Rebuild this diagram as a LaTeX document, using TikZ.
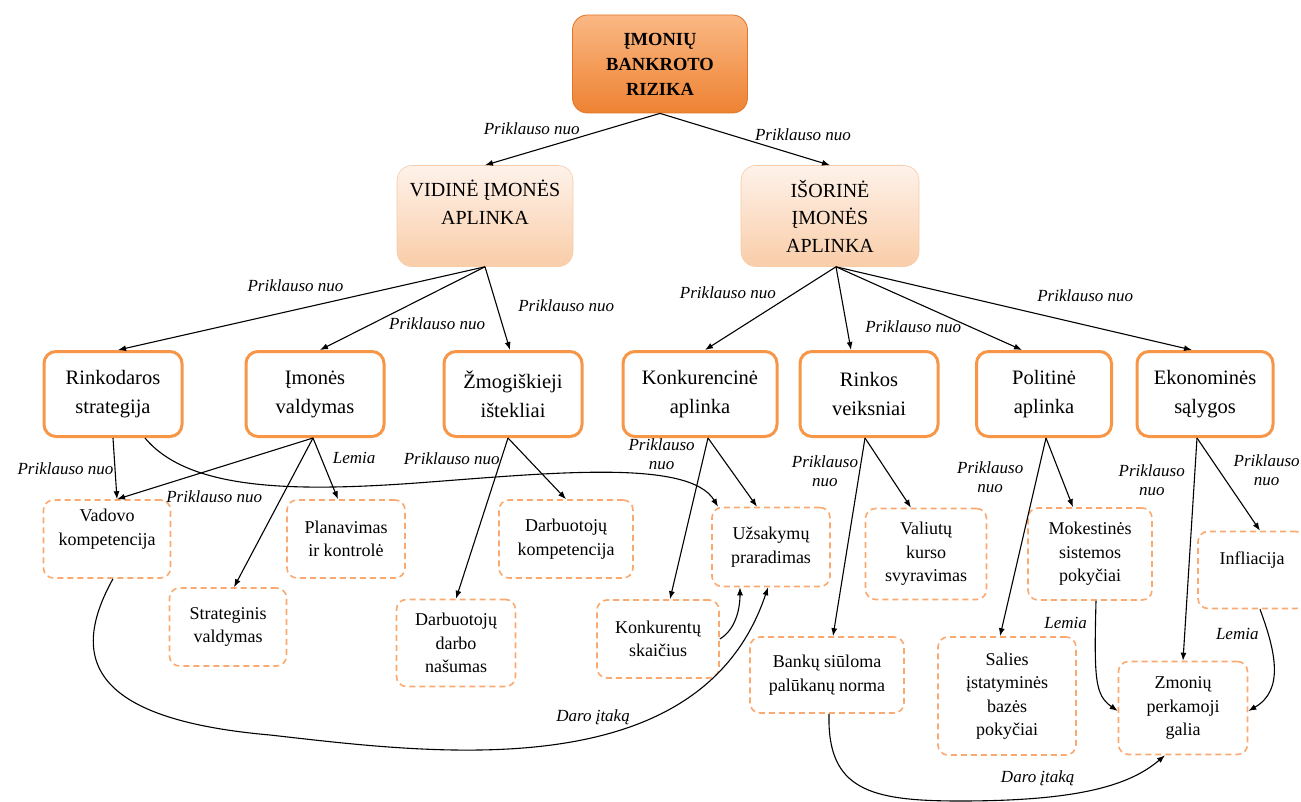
\documentclass[tikz,border=0pt]{standalone}
\usepackage{fontspec}
\setmainfont{Liberation Serif}
\usetikzlibrary{positioning,arrows,arrows.meta}
\definecolor{rootdark}{HTML}{EE8232}
\definecolor{rootlight}{HTML}{FAB884}
\definecolor{rootline}{HTML}{E07428}
\definecolor{peachtop}{HTML}{FEF2EA}
\definecolor{peachbot}{HTML}{F9CDA8}
\definecolor{peachline}{HTML}{F6CBAA}
\definecolor{boxline}{HTML}{F79646}
\definecolor{dashline}{HTML}{FAA970}

\begin{document}
\begin{tikzpicture}[x=1pt,y=-1pt,
root/.style={rectangle, rounded corners=15pt, draw=rootline, line width=0.8pt, top color=rootlight, bottom color=rootdark, minimum width=175pt, minimum height=98pt, align=center, font=\fontsize{18.5}{25}\selectfont\bfseries},
env/.style={rectangle, rounded corners=15pt, draw=peachline, line width=0.6pt, top color=peachtop, bottom color=peachbot, minimum width=176pt, minimum height=101pt, align=center, font=\fontsize{20}{27.5}\selectfont},
factor/.style={rectangle, rounded corners=12pt, draw=boxline, line width=3pt, fill=white, minimum width=138pt, minimum height=85pt, align=center, font=\fontsize{20.5}{29}\selectfont},
item/.style={rectangle, rounded corners=10pt, draw=dashline, line width=1.6pt, dash pattern=on 6pt off 4pt, minimum height=78pt, align=center, font=\fontsize{18}{23.5}\selectfont},
lbl/.style={font=\fontsize{17}{19}\selectfont\itshape, inner sep=1pt, align=center},
link/.style={-{Latex[length=8pt,width=6pt]}, line width=1.1pt}
]
\useasboundingbox (0,0) rectangle (1301,802);

% top levels
\node[root] (root) at (660,64) {ĮMONIŲ\\BANKROTO\\RIZIKA};
\node[env] (vid) at (485,216) {VIDINĖ ĮMONĖS\\APLINKA\\\mbox{}};
\node[env, minimum width=178pt] (isor) at (830,216) {IŠORINĖ\\ĮMONĖS\\APLINKA};

% factors
\node[factor] (rink) at (113,394) {Rinkodaros\\strategija};
\node[factor] (imon) at (315,394) {Įmonės\\valdymas};
\node[factor] (zmog) at (513,394) {Žmogiškieji\\ištekliai};
\node[factor, minimum width=154pt] (konk) at (700,394) {Konkurencinė\\aplinka};
\node[factor] (rinkv) at (869,394) {Rinkos\\veiksniai};
\node[factor, minimum width=135pt] (polit) at (1044,394) {Politinė\\aplinka};
\node[factor, minimum width=136pt] (ekon) at (1205,394) {Ekonominės\\sąlygos};

% items
\node[item, minimum width=127pt] (vad) at (107,539) {Vadovo\\kompetencija\\\mbox{}};
\node[item, minimum width=117pt] (strat) at (228,627) {Strateginis\\valdymas};
\node[item, minimum width=118pt] (plan) at (346,539) {Planavimas\\ir kontrolė};
\node[item, minimum width=134pt] (dkomp) at (566,539) {Darbuotojų\\kompetencija};
\node[item, minimum width=119pt, minimum height=87pt] (dnas) at (456,643) {Darbuotojų\\darbo\\našumas};
\node[item, minimum width=118pt, minimum height=79pt] (uzs) at (771,547) {Užsakymų\\praradimas};
\node[item, minimum width=122pt] (konkur) at (658,639) {Konkurentų\\skaičius};
\node[item, minimum width=121pt, minimum height=91pt] (valiut) at (926,554) {Valiutų\\kurso\\svyravimas};
\node[item, minimum width=154pt, minimum height=76pt] (bank) at (827,675) {Bankų siūloma\\palūkanų norma};
\node[item, minimum width=124pt, minimum height=92pt] (mok) at (1090,554) {Mokestinės\\sistemos\\pokyčiai};
\node[item, minimum width=138pt, minimum height=118pt] (salies) at (1007,696) {Salies\\įstatyminės\\bazės\\pokyčiai};
\node[item, minimum width=129pt, minimum height=93pt] (zmon) at (1183,708) {Zmonių\\perkamoji\\galia};
\node[item, minimum width=108pt, minimum height=77pt] (infl) at (1252,570) {Infliacija\\\mbox{}};

% links
\draw[link] (root.south) -- (vid.north) node[lbl, pos=.45, above left] {Priklauso nuo};
\draw[link] (root.south) -- (isor.north) node[lbl, pos=.55, above right] {Priklauso nuo};
\draw[link] (vid.south) -- ([xshift=5pt]rink.north) node[lbl, pos=.37, above left=6pt] {Priklauso nuo};
\draw[link] (vid.south) -- ([xshift=5pt]imon.north) node[lbl, pos=.59, below right] {Priklauso nuo};
\draw[link] (vid.south) -- ([xshift=-3pt]zmog.north) node[lbl, pos=.47, right=20pt] {Priklauso nuo};
\draw[link] ([xshift=6pt]isor.south) -- ([xshift=5pt]konk.north) node[lbl, pos=.31, left=18pt] {Priklauso nuo};
\draw[link] ([xshift=6pt]isor.south) -- ([xshift=-18pt]rinkv.north) node[lbl, pos=.72, right=17pt] {Priklauso nuo};
\draw[link] ([xshift=6pt]isor.south) -- ([xshift=-22pt]polit.north);
\draw[link] ([xshift=6pt]isor.south) -- ([xshift=-13pt]ekon.north) node[lbl, pos=.7, above=22pt] {Priklauso nuo};

\draw[link] (rink.south) -- ([xshift=10pt]vad.north) node[lbl, pos=.5, left] {Priklauso nuo};
\draw[link] ([xshift=32pt]rink.south) .. controls (190,492) and (300,492) .. (430,482) node[lbl, pos=.35, below=12pt] {Priklauso nuo} .. controls (560,472) and (690,460) .. ([xshift=-53pt]uzs.north);
\draw[link] ([xshift=-2pt]imon.south) -- ([xshift=10pt]vad.north);
\draw[link] ([xshift=-2pt]imon.south) -- ([xshift=6pt]strat.north);
\draw[link] ([xshift=-2pt]imon.south) -- ([xshift=-8pt]plan.north) node[lbl, pos=.33, right=10pt] {Lemia};
\draw[link] ([xshift=-5pt]zmog.south) -- (dnas.north) node[lbl, pos=.13, left] {Priklauso nuo};
\draw[link] ([xshift=-5pt]zmog.south) -- (dkomp.north);
\draw[link] ([xshift=8pt]konk.south) -- ([xshift=12pt]konkur.north) node[lbl, pos=.1, left=8pt] {Priklauso\\nuo};
\draw[link] ([xshift=8pt]konk.south) -- ([xshift=-14pt]uzs.north);
\draw[link] (konkur.east) .. controls (735,630) and (740,610) .. ([xshift=-31pt]uzs.south);
\draw[link] ([xshift=6pt]vad.south) .. controls (65,665) and (100,720) .. (270,735) .. controls (430,753) and (700,790) .. ([xshift=-3pt]uzs.south) node[lbl, pos=.57, above=10pt] {Daro įtaką};

\draw[link] ([xshift=-4pt]rinkv.south) -- ([xshift=6pt]bank.north) node[lbl, pos=.17, left] {Priklauso\\nuo};
\draw[link] ([xshift=-4pt]rinkv.south) -- ([xshift=-15pt]valiut.north);
\draw[link] ([xshift=2pt]polit.south) -- ([xshift=-7pt]salies.north) node[lbl, pos=.2, left=12pt] {Priklauso\\nuo};
\draw[link] ([xshift=2pt]polit.south) -- ([xshift=-17pt]mok.north);
\draw[link] ([xshift=-8pt]ekon.south) -- (zmon.north) node[lbl, pos=.19, left=8pt] {Priklauso\\nuo};
\draw[link] ([xshift=-8pt]ekon.south) -- ([xshift=8pt]infl.north) node[lbl, pos=.35, right=13pt] {Priklauso\\nuo};
\draw[link] ([xshift=6pt]mok.south) .. controls (1094,680) and (1095,695) .. ([yshift=-3pt]zmon.west) node[lbl, pos=.1, left=7pt] {Lemia};
\draw[link] ([xshift=8pt]infl.south) .. controls (1275,650) and (1285,690) .. ([yshift=-3pt]zmon.east) node[lbl, pos=.2, left=8pt] {Lemia};
\draw[link] ([xshift=2pt]bank.south) .. controls (827,790) and (870,801) .. (960,801) .. controls (1080,801) and (1130,785) .. ([xshift=-18pt]zmon.south) node[lbl, pos=.25, above=11pt] {Daro įtaką};
\end{tikzpicture}
\end{document}
